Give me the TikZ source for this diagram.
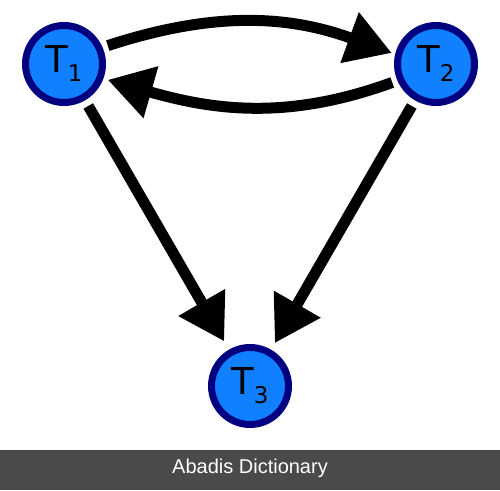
\documentclass[tikz,border=0pt]{standalone}
\usepackage{fontspec}
\setmainfont{DejaVu Sans}
\newfontfamily\barfont{Liberation Sans}
\usetikzlibrary{arrows.meta}
\definecolor{nodefill}{RGB}{16,128,255}
\definecolor{nodeedge}{RGB}{0,0,128}
\definecolor{barcol}{RGB}{75,73,76}
\tikzset{
  tnode/.style={circle, draw=nodeedge, fill=nodefill, line width=7pt,
    minimum size=77pt, inner sep=0pt, outer sep=7pt,
    font=\fontsize{37}{40}\selectfont},
  conn/.style={line width=11pt, -{Triangle[length=45pt,width=51pt]}},
  bar/.style={fill=barcol, draw=none, minimum width=500pt, minimum height=40pt,
    inner sep=0pt, outer sep=0pt},
  bartext/.style={text=white, font=\barfont\fontsize{20}{22}\selectfont, inner sep=0pt},
}
\newcommand\sublab[1]{T\raisebox{-9pt}{\fontsize{23}{24}\selectfont #1}}
\begin{document}
\begin{tikzpicture}[x=1pt,y=1pt]
\useasboundingbox (0,0) rectangle (500,490);
\fill[white] (0,0) rectangle (500,490);
\node[tnode] (T1) at (64,426) {\sublab{1}};
\node[tnode] (T2) at (436,426) {\sublab{2}};
\node[tnode] (T3) at (250,104) {\sublab{3}};
\draw[conn, shorten <=2pt] (T1.23) to[out=18,in=160] (T2.166);
\draw[conn, shorten <=2pt, shorten >=1pt] (T2.203) to[out=200,in=-16] (T1.340);
\draw[conn, shorten <=3pt, shorten >=6pt] (T1) -- (T3);
\draw[conn, shorten <=3pt, shorten >=4pt] (T2) -- (T3);
\node[bar] (bar) at (250,20) {};
\node[bartext, anchor=base] (bartxt) at (250,17) {Abadis Dictionary};
\end{tikzpicture}
\end{document}
